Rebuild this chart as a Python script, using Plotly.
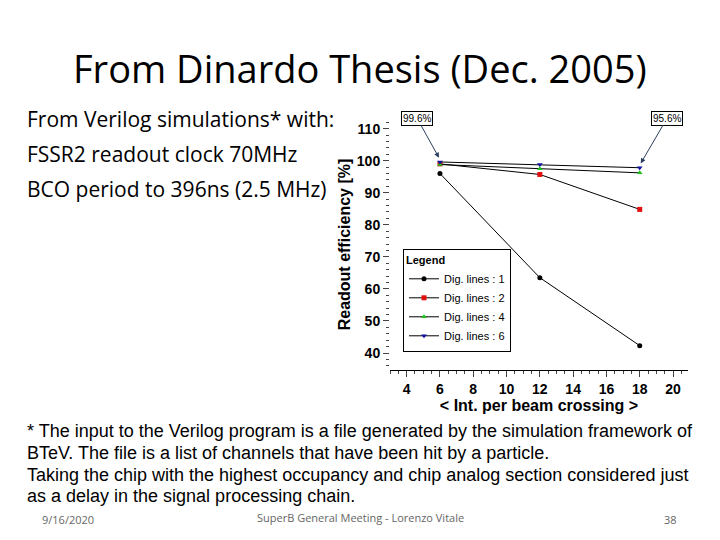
import plotly.graph_objects as go

x_vals = [6, 12, 18]
dig1 = [96.0, 63.5, 42.3]
dig2 = [99.0, 95.7, 84.8]
dig4 = [98.8, 97.5, 96.2]
dig6 = [99.6, 98.8, 97.8]
names = ["Dig. lines : 1", "Dig. lines : 2", "Dig. lines : 4", "Dig. lines : 6"]
colors = ["black", "#e01010", "#20c020", "#1010a0"]
symbols = ["circle", "square", "triangle-up", "triangle-down"]

OFF = 8
W, H = 720 - OFF, 540 - OFF
def px(x): return (x - OFF) / W
def py(y): return 1 - (y - OFF) / H

fig = go.Figure()
for ys, n, c, s in zip([dig1, dig2, dig4, dig6], names, colors, symbols):
    fig.add_trace(go.Scatter(x=x_vals, y=ys, name=n, mode="lines+markers",
                             line=dict(color="black", width=1),
                             marker=dict(color=c, symbol=s, size=5)))

fig.update_layout(
    width=W, height=H, margin=dict(l=0, r=0, t=0, b=0),
    paper_bgcolor="white", plot_bgcolor="white",
    font=dict(family="Liberation Sans", color="black"),
    xaxis=dict(domain=[px(390), px(688)], range=[3.0, 20.9], tickvals=[4,6,8,10,12,14,16,18,20],
               ticks="outside", ticklen=6, showgrid=False, zeroline=False, showline=True,
               linecolor="black", tickfont=dict(size=14, family="Liberation Sans", weight="bold"),
               minor=dict(ticks="outside", ticklen=3, dtick=0.5),
               title=dict(text="<b>&lt; Int. per beam crossing &gt;</b>", font=dict(size=16), standoff=3)),
    yaxis=dict(domain=[py(370), py(119)], range=[34.7, 113], tickvals=[40,50,60,70,80,90,100,110],
               ticks="outside", ticklen=6, showgrid=False, zeroline=False, showline=False,
               tickfont=dict(size=14, family="Liberation Sans", weight="bold"),
               minor=dict(ticks="outside", ticklen=3, dtick=2),
               title=dict(text="<b>Readout efficiency [%]</b>", font=dict(size=16), standoff=2)),
    legend=dict(x=px(403), y=py(249), xanchor="left", yanchor="top", bgcolor="white",
                bordercolor="black", borderwidth=1, font=dict(size=11),
                title=dict(text="<b>Legend</b>", side="top", font=dict(size=11)),
                itemwidth=30, tracegroupgap=0),
    showlegend=True,
)

def txt(t, x, y, size, family="Liberation Sans", anchor="left", color="black"):
    fig.add_annotation(xref="paper", yref="paper", x=px(x), y=py(y), text=t, showarrow=False,
                       xanchor=anchor, yanchor="middle", font=dict(size=size, family=family, color=color))

txt("From Dinardo Thesis (Dec. 2005)", 360, 68, 38, "Open Sans", "center")
txt("From Verilog simulations* with:", 25, 119, 21, "Open Sans")
txt("FSSR2 readout clock 70MHz", 25, 154, 21, "Open Sans")
txt("BCO period to 396ns (2.5 MHz)", 25, 189, 21, "Open Sans")
txt("* The input to the Verilog program is a file generated by the simulation framework of", 25, 431, 18)
txt("BTeV. The file is a list of channels that have been hit by a particle.", 25, 453, 18)
txt("Taking the chip with the highest occupancy and chip analog section considered just", 25, 475, 18)
txt("as a delay in the signal processing chain.", 25, 496, 18)
txt("9/16/2020", 68, 519, 11, "Open Sans", "center", "#666")
txt("SuperB General Meeting - Lorenzo Vitale", 360, 517, 11, "Open Sans", "center", "#666")
txt("38", 670, 519, 11, "Open Sans", "center", "#666")

for label, lx, ax_, ay_ in [("99.6%", 4.62, 6, 99.6), ("95.6%", 19.65, 18, 97.8)]:
    fig.add_annotation(x=ax_, y=ay_ + 0.8, xref="x", yref="y", text=label, showarrow=True,
                       ax=lx, ay=113.3, axref="x", ayref="y",
                       arrowhead=2, arrowsize=1, arrowwidth=1, standoff=2,
                       bgcolor="white", bordercolor="black", borderwidth=1, borderpad=1,
                       font=dict(size=10))

fig.write_html("out.html")
